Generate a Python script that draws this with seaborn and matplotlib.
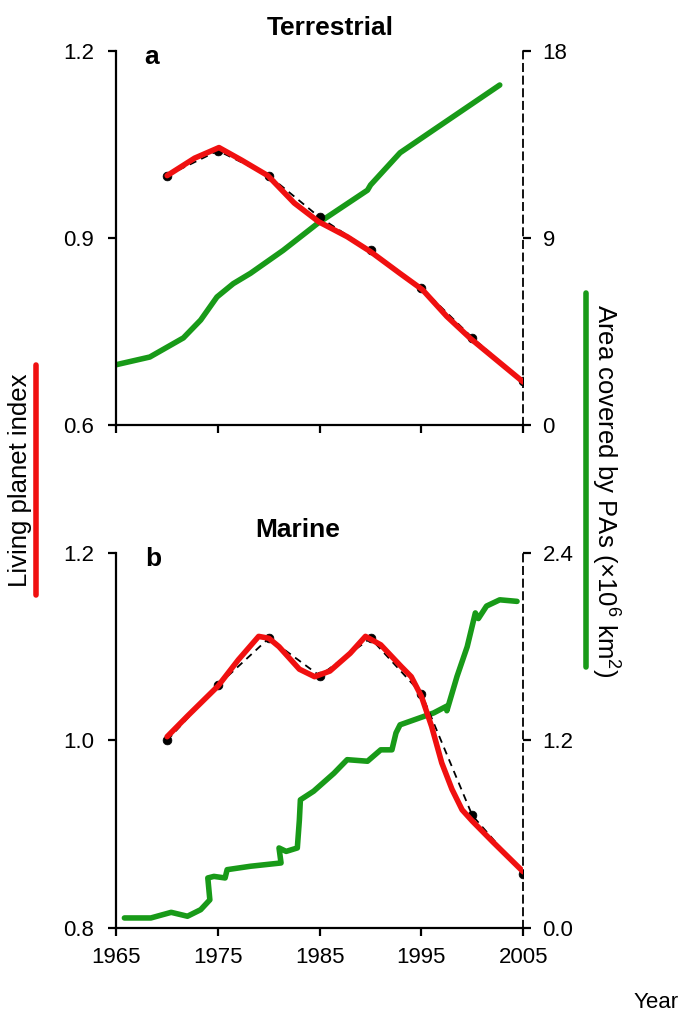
import numpy as np
import pandas as pd
import seaborn as sns
import matplotlib
matplotlib.use("Agg")
from matplotlib import pyplot as plt
from matplotlib.lines import Line2D

# --- data ---
lpi_years = [1970, 1975, 1980, 1985, 1990, 1995, 2000, 2005]
terr_lpi = [1.00, 1.04, 1.00, 0.933, 0.88, 0.82, 0.74, 0.67]
mar_lpi = [1.00, 1.059, 1.109, 1.069, 1.109, 1.05, 0.92, 0.858]

# hand-drawn red trends
terr_red_x = [1970, 1972.7, 1975.1, 1977.3, 1979.9, 1982.5, 1984.9, 1987.7, 1990,
              1992.9, 1995.1, 1997.5, 1999.8, 2005]
terr_red_y = [1.0, 1.028, 1.045, 1.025, 1.0, 0.956, 0.926, 0.902, 0.878,
              0.843, 0.817, 0.774, 0.739, 0.669]

mar_red_x = [1970, 1972, 1975, 1977, 1979, 1980, 1981, 1983, 1984.5, 1986, 1988,
             1989.5, 1991, 1993, 1994, 1995, 1996, 1997, 1998, 1999, 2000, 2002, 2005]
mar_red_y = [1.004, 1.026, 1.058, 1.086, 1.111, 1.109, 1.100, 1.076, 1.068, 1.074, 1.093,
             1.111, 1.102, 1.079, 1.068, 1.047, 1.015, 0.976, 0.948, 0.926, 0.914, 0.892, 0.860]

# protected area (x10^6 km2), green traces
terr_pa_x = [1965, 1968.3, 1971.6, 1973.3, 1974.9, 1976.5, 1978.2, 1981.4, 1984.8, 1989.7,
             1990, 1992.9, 1996.2, 2002.7]
terr_pa_y = [2.9, 3.27, 4.19, 5.05, 6.16, 6.8, 7.3, 8.4, 9.7, 11.3,
             11.55, 13.1, 14.2, 16.36]

mar_pa_x = [1965.8, 1968.4, 1970.4, 1972.0, 1973.3, 1974.2, 1974.0, 1974.6, 1975.7, 1975.9,
            1978.2, 1981.2, 1981.0, 1981.7, 1982.8, 1983.0, 1983.1, 1984.4, 1986.4, 1987.7,
            1989.7, 1991.0, 1992.1, 1992.5, 1992.9, 1996.2, 1997.5, 1997.5, 1998.5, 1999.5,
            2000.3, 2000.6, 2001.4, 2002.7, 2004.4]
mar_pa_y = [0.064, 0.064, 0.10, 0.075, 0.117, 0.18, 0.32, 0.33, 0.32, 0.373,
            0.395, 0.416, 0.512, 0.49, 0.512, 0.69, 0.82, 0.875, 0.99, 1.077,
            1.067, 1.14, 1.14, 1.248, 1.30, 1.376, 1.42, 1.39, 1.61, 1.80,
            2.016, 1.98, 2.06, 2.10, 2.09]

x_ticks = [1965, 1975, 1985, 1995, 2005]

RED = "#f01010"
GREEN = "#189a18"

sns.set_style("ticks")
plt.rcParams['font.family'] = ['Liberation Sans', 'DejaVu Sans']
plt.rcParams['mathtext.fontset'] = 'custom'
plt.rcParams['mathtext.rm'] = 'Liberation Sans'
plt.rcParams['mathtext.it'] = 'Liberation Sans:italic'
for k in ['text.color', 'axes.labelcolor', 'xtick.color', 'ytick.color', 'axes.edgecolor']:
    plt.rcParams[k] = 'black'
plt.rcParams['axes.linewidth'] = 1.6
plt.rcParams['xtick.major.width'] = 1.6
plt.rcParams['ytick.major.width'] = 1.6
plt.rcParams['xtick.major.size'] = 6
plt.rcParams['ytick.major.size'] = 6

fig = plt.figure(figsize=(6.92, 10.23), dpi=100)
ax_t = fig.add_axes([0.168, 0.5846, 0.588, 0.3656])
ax_b = fig.add_axes([0.168, 0.0929, 0.588, 0.3666])

TS = 16


def panel(ax, lpi, red_x, red_y, pa_x, pa_y, ylim, yticks, ylabels,
          rlim, rticks, rlabels, title, title_x, letter, show_x):
    tw = ax.twinx()
    ax.set_zorder(tw.get_zorder() + 1)
    ax.patch.set_visible(False)

    sns.lineplot(x=pa_x, y=pa_y, ax=tw, color=GREEN, lw=4, sort=False,
                 estimator=None, solid_capstyle='round', solid_joinstyle='round')
    sns.lineplot(x=lpi_years, y=lpi, ax=ax, color="black", lw=1.3,
                 linestyle=(0, (4, 3)), estimator=None)
    sns.scatterplot(x=lpi_years, y=lpi, ax=ax, color="black", s=40,
                    edgecolor="black", zorder=3)
    sns.lineplot(x=red_x, y=red_y, ax=ax, color=RED, lw=4, sort=False,
                 estimator=None, solid_capstyle='round', solid_joinstyle='round',
                 zorder=4)

    ax.set_xlim(1965, 2005)
    ax.set_ylim(*ylim)
    ax.set_yticks(yticks)
    ax.set_yticklabels(ylabels, fontsize=TS)
    ax.set_xticks(x_ticks)
    if show_x:
        ax.set_xticklabels([str(v) for v in x_ticks], fontsize=TS)
    else:
        ax.set_xticklabels([])
    ax.tick_params(axis='x', pad=8)
    ax.tick_params(axis='y', pad=10)
    ax.spines['top'].set_visible(False)
    ax.spines['right'].set_visible(False)

    tw.set_ylim(*rlim)
    tw.set_yticks(rticks)
    tw.set_yticklabels(rlabels, fontsize=TS)
    tw.tick_params(axis='y', pad=8)
    tw.spines['top'].set_visible(False)
    tw.spines['left'].set_visible(False)
    tw.spines['bottom'].set_visible(False)
    tw.spines['right'].set_linestyle((0, (4, 3)))
    tw.spines['right'].set_linewidth(1.3)

    ax.text(title_x, 1.03, title, transform=ax.transAxes, ha='center',
            va='bottom', fontsize=19, fontweight='bold')
    ax.text(0.07, 0.985, letter, transform=ax.transAxes, ha='left',
            va='center', fontsize=19, fontweight='bold')


panel(ax_t, terr_lpi, terr_red_x, terr_red_y, terr_pa_x, terr_pa_y,
      (0.6, 1.2), [0.6, 0.9, 1.2], ["0.6", "0.9", "1.2"],
      (0, 18), [0, 9, 18], ["0", "9", "18"], "Terrestrial", 0.526, "a", False)
panel(ax_b, mar_lpi, mar_red_x, mar_red_y, mar_pa_x, mar_pa_y,
      (0.8, 1.2), [0.8, 1.0, 1.2], ["0.8", "1.0", "1.2"],
      (0, 2.4), [0, 1.2, 2.4], ["0.0", "1.2", "2.4"], "Marine", 0.447, "b", True)

# shared axis labels with coloured bars
fig.text(0.029, 0.5307, "Living planet index", rotation=90, ha='center',
         va='center', fontsize=18.5)
fig.add_artist(Line2D([0.052, 0.052], [1 - 365 / 1023, 1 - 595 / 1023],
                      color=RED, lw=4, transform=fig.transFigure))
fig.text(0.875, 0.52, r"Area covered by PAs ($\times$10$^6$ km$^2$)",
         rotation=-90, ha='center', va='center', fontsize=18.5)
fig.add_artist(Line2D([0.847, 0.847], [1 - 293 / 1023, 1 - 667 / 1023],
                      color=GREEN, lw=4, transform=fig.transFigure))
fig.text(0.948, 0.0196, "Year", ha='center', va='center', fontsize=16)

fig.savefig("out.png", dpi=100)
